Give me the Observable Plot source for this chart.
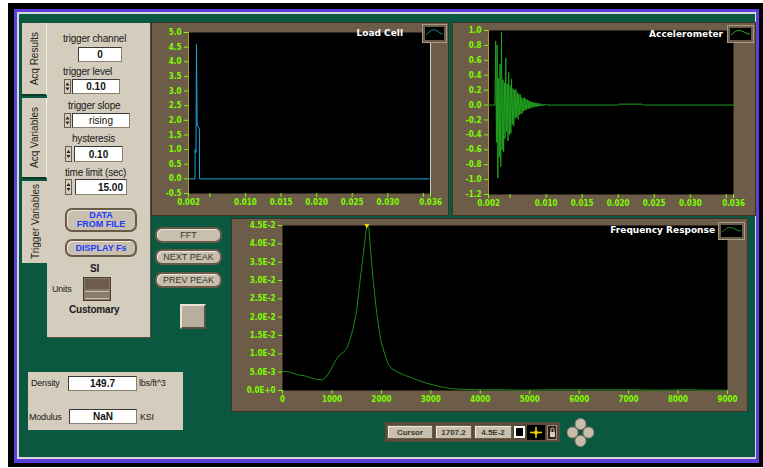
<!DOCTYPE html>
<html><head><meta charset="utf-8">
<script src="https://cdn.jsdelivr.net/npm/d3@7"></script>
<script src="https://cdn.jsdelivr.net/npm/@observablehq/plot@0.6"></script>
<style>
body{margin:0;background:#fff;}
#root{position:relative;width:763px;height:468px;overflow:hidden;font-family:"Liberation Sans",Arial,sans-serif;}
.a{position:absolute;box-sizing:border-box;}
.lbl{position:absolute;font-size:10px;color:#1a1a1a;white-space:nowrap;line-height:10px;letter-spacing:-0.2px;}
.box{position:absolute;box-sizing:border-box;background:#fff;border:1px solid #8a8070;border-top-color:#3a3a3a;border-left-color:#3a3a3a;font-size:10px;font-weight:bold;display:flex;align-items:center;justify-content:center;color:#111;}
.spin{position:absolute;box-sizing:border-box;background:#d4ccbc;border:1px solid #6a5e50;}
.btn{position:absolute;box-sizing:border-box;background:#c8bfae;border:2px solid #6a5a48;border-radius:7px;box-shadow:inset 1px 1px 0 #efe9de;display:flex;align-items:center;justify-content:center;text-align:center;font-size:9px;font-weight:bold;line-height:9px;color:#3a3530;}
.ttl{position:absolute;color:#fff;font:bold 9px "DejaVu Sans",sans-serif;white-space:nowrap;line-height:10px;}
.tab{position:absolute;box-sizing:border-box;background:#d4ccbc;font-size:10px;color:#222;display:flex;align-items:center;justify-content:center;}
.tab span{writing-mode:vertical-rl;transform:rotate(180deg);white-space:nowrap;}
.leg{position:absolute;box-sizing:border-box;background:#000;border:2px solid #6d5c48;outline:1px solid #a89a88;}
</style>
</head><body><div id="root"></div>
<script>
// ---------------- data ----------------
const loadT = [0.002, 0.00292, 0.00293, 0.00305, 0.00312, 0.00322, 0.00336, 0.00353, 0.00356, 0.036];
const loadV = [0, 0, 1.0, 0.9, 4.6, 1.8, 1.8, 1.7, 0, 0];
const loadYTicks = [-0.5, 0, 0.5, 1.0, 1.5, 2.0, 2.5, 3.0, 3.5, 4.0, 4.5, 5.0];
const timeTicks = [0.002, 0.005, 0.010, 0.015, 0.020, 0.025, 0.030, 0.035, 0.036];
const timeLabels = ["0.002", "", "0.010", "0.015", "0.020", "0.025", "0.030", "", "0.036"];

const accStart = 0.0029, accStep = 0.0001;
const accValues = [0, 0.86, -0.50, 0.80, -0.98, 0.36, -0.70, 0.55, -0.83, 0.98, -0.60, 0.34, -0.63, 0.30, -0.45, 0.63,
  -0.36, 0.28, -0.48, 0.44, -0.40, 0.26, -0.38, 0.35, -0.26, 0.22, -0.28, 0.20, -0.18, 0.21, -0.16, 0.17, -0.19, 0.15,
  -0.13, 0.14, -0.12, 0.10, -0.11, 0.09, -0.08, 0.10, -0.07, 0.08, -0.06, 0.07, -0.05, 0.06, -0.05, 0.05, -0.04, 0.04,
  -0.03, 0.04, -0.03, 0.03, -0.02, 0.03, -0.02, 0.02, -0.02, 0.02, -0.01, 0.02, -0.01, 0.01, -0.01, 0.01, -0.01, 0.01, 0, 0.01, 0];
const accTailT = [0.0150, 0.0199, 0.0201, 0.0233, 0.0235, 0.036];
const accTailV = [0, 0, 0.012, 0.012, 0, 0];
const accYTicks = [-1.2, -1.0, -0.8, -0.6, -0.4, -0.2, 0, 0.2, 0.4, 0.6, 0.8, 1.0];

const freqHz = [0, 150, 306, 450, 578, 700, 816, 900, 986, 1060, 1122, 1180, 1224, 1300, 1361, 1430, 1497, 1560, 1633, 1680,
  1700, 1725, 1748, 1790, 1837, 1890, 1939, 2000, 2075, 2140, 2211, 2350, 2483, 2620, 2755, 2890, 3027, 3200, 3367, 3500,
  3707, 4000, 4300, 4900, 5500, 6200, 7000, 7600, 8200, 8600, 9000];
const freqMag = [0.0053, 0.0050, 0.0043, 0.0040, 0.0034, 0.0030, 0.0029, 0.0040, 0.0059, 0.0078, 0.0091, 0.0100, 0.0103,
  0.0115, 0.0137, 0.0170, 0.0215, 0.0290, 0.0370, 0.0425, 0.0444, 0.0448, 0.0440, 0.0370, 0.0297, 0.0230, 0.0178, 0.0130,
  0.0096, 0.0072, 0.0059, 0.0049, 0.0041, 0.0034, 0.0027, 0.0021, 0.0016, 0.0010, 0.0006, 0.0004, 0.0003, 0.0002, 0.0002,
  0.0001, 0.0002, 0.0002, 0.0002, 0.0001, 0.0002, 0.0001, 0.0001];
const freqXTicks = [0, 1000, 2000, 3000, 4000, 5000, 6000, 7000, 8000, 9000];
const freqYTicks = [0, 0.005, 0.010, 0.015, 0.020, 0.025, 0.030, 0.035, 0.040, 0.045];
const freqYLabels = ["0.0E+0", "5.0E-3", "1.0E-2", "1.5E-2", "2.0E-2", "2.5E-2", "3.0E-2", "3.5E-2", "4.0E-2", "4.5E-2"];
const cursorX = [1707.2], cursorY = [0.045];
const cursorLabels = ["1707.2", "4.5E-2"];

// ---------------- helpers ----------------
const root = document.getElementById("root");
function add(cls, css, html) {
  const d = document.createElement("div");
  d.className = cls;
  d.style.cssText = css;
  if (html != null) d.innerHTML = html;
  root.appendChild(d);
  return d;
}
const GREEN = "#0a583f", TAN = "#d4ccbc", BROWN = "#6d5c48", TICK = "#7cfc00";

// frame
add("a", "left:8px;top:3px;width:755px;height:464px;background:#000;");
add("a", "left:14px;top:9px;width:745px;height:454px;background:#5b3fd8;");
add("a", "left:17px;top:12px;width:739px;height:447px;background:#d8d8e4;");
add("a", `left:19px;top:14px;width:736px;height:443px;background:${GREEN};`);

// ---------------- charts ----------------
const axisStyle = {background: BROWN, color: TICK, fontSize: "8px", fontFamily: "'DejaVu Sans Condensed','DejaVu Sans',sans-serif", fontWeight: "bold", fontStretch: "condensed", overflow: "visible"};
function place(svg, left, top) {
  const w = document.createElement("div");
  w.className = "a";
  w.style.cssText = `left:${left}px;top:${top}px;outline:1px solid #3e3226;line-height:0;`;
  w.appendChild(svg);
  root.appendChild(w);
}
const timeMap = new Map(timeTicks.map((t, i) => [t, timeLabels[i]]));

const loadData = loadT.map((t, i) => ({t, v: loadV[i]}));
place(Plot.plot({
  width: 296, height: 192, marginLeft: 36, marginRight: 18, marginTop: 9, marginBottom: 22,
  x: {domain: [0.002, 0.036]}, y: {domain: [-0.5, 5.0]}, style: axisStyle,
  marks: [
    Plot.frame({fill: "black"}),
    Plot.axisY({ticks: loadYTicks, tickFormat: d => d.toFixed(1), tickSize: 4, tickPadding: 3, label: null}),
    Plot.axisX({ticks: timeTicks, tickFormat: d => timeMap.get(d), tickSize: 4, tickPadding: 2, label: null}),
    Plot.ruleX([0.002], {stroke: "#b89c1c"}),
    Plot.ruleX([0.036], {y1: -0.5, y2: 4.7, stroke: "#d8d0c4"}),
    Plot.line(loadData, {x: "t", y: "v", stroke: "#1ba6d6", strokeWidth: 1})
  ]
}), 152, 23);

const accData = [{t: 0.002, v: 0}]
  .concat(accValues.map((v, i) => ({t: accStart + i * accStep, v})))
  .concat(accTailT.map((t, i) => ({t, v: accTailV[i]})));
place(Plot.plot({
  width: 302, height: 192, marginLeft: 35, marginRight: 22, marginTop: 7, marginBottom: 21,
  x: {domain: [0.002, 0.036]}, y: {domain: [-1.2, 1.0]}, style: axisStyle,
  marks: [
    Plot.frame({fill: "black"}),
    Plot.axisY({ticks: accYTicks, tickFormat: d => d.toFixed(1), tickSize: 4, tickPadding: 3, label: null}),
    Plot.axisX({ticks: timeTicks, tickFormat: d => timeMap.get(d), tickSize: 4, tickPadding: 2, label: null}),
    Plot.ruleX([0.002], {stroke: "#b89c1c"}),
    Plot.line(accData, {x: "t", y: "v", stroke: "#20a020", strokeWidth: 1})
  ]
}), 453, 23);

const freqData = freqHz.map((f, i) => ({f, m: freqMag[i]}));
const freqMap = new Map(freqYTicks.map((t, i) => [t, freqYLabels[i]]));
place(Plot.plot({
  width: 515, height: 192, marginLeft: 50, marginRight: 20, marginTop: 6, marginBottom: 21,
  x: {domain: [0, 9000]}, y: {domain: [0, 0.045]}, style: axisStyle,
  marks: [
    Plot.frame({fill: "black"}),
    Plot.axisY({ticks: freqYTicks, tickFormat: d => freqMap.get(d), tickSize: 4, tickPadding: 3, label: null}),
    Plot.axisX({ticks: freqXTicks, tickFormat: d => String(d), tickSize: 4, tickPadding: 2, label: null}),
    Plot.line(freqData, {x: "f", y: "m", stroke: "#1c8a1c", strokeWidth: 1}),
    Plot.dot(cursorX.map((x, i) => ({x, y: cursorY[i]})), {x: "x", y: "y", symbol: "triangle2", r: 2.5, fill: "#e6d200", rotate: 180})
  ]
}), 232, 219);

// chart titles and legend icons
function legIcon(left, top, w, h, color) {
  add("leg", `left:${left}px;top:${top}px;width:${w}px;height:${h}px;`,
    `<svg width="${w-4}" height="${h-4}" style="display:block"><path d="M1,${h-9} C${(w-4)*0.3},${h-14} ${(w-4)*0.4},2 ${(w-4)*0.55},3 S${(w-4)*0.8},${h-10} ${w-5},${h-10}" fill="none" stroke="${color}" stroke-width="1"/></svg>`);
}
add("ttl", "right:360px;top:28px;", "Load Cell");
legIcon(423, 25, 23, 17, "#1a9090");
add("ttl", "right:40px;top:29px;", "Accelerometer");
legIcon(728, 26, 25, 16, "#27b327");
add("ttl", "right:48px;top:225px;", "Frequency Response");
legIcon(719, 223, 25, 16, "#1f961f");

// ---------------- left tab panel ----------------
add("a", `left:47px;top:23px;width:103px;height:314px;background:${TAN};box-shadow:1px 1px 0 #5a5040;`);
add("tab", "left:22px;top:23px;width:25px;height:73px;border-right:1px solid #f2eee6;border-bottom:2px solid #0a3a2a;", "<span>Acq Results</span>");
add("tab", "left:22px;top:98px;width:25px;height:81px;border-right:1px solid #f2eee6;border-bottom:2px solid #0a3a2a;", "<span>Acq Variables</span>");
add("tab", "left:22px;top:181px;width:26px;height:82px;", "<span>Trigger Variables</span>");

function spinner(left, top, h) {
  add("spin", `left:${left}px;top:${top}px;width:7px;height:${h}px;`,
    `<svg width="5" height="${h-2}" style="display:block"><path d="M0.5,${h/2-2} L2.5,${h/2-5} L4.5,${h/2-2}Z M0.5,${h/2} L2.5,${h/2+3} L4.5,${h/2}Z" fill="#222"/></svg>`);
}
add("lbl", "left:63px;top:34px;", "trigger channel");
add("box", "left:78px;top:47px;width:44px;height:15px;", "0");
add("lbl", "left:63px;top:67px;", "trigger level");
spinner(64, 79, 15);
add("box", "left:72px;top:79px;width:48px;height:15px;", "0.10");
add("lbl", "left:68px;top:101px;", "trigger slope");
spinner(64, 113, 15);
add("box", "left:72px;top:113px;width:58px;height:15px;font-weight:normal;", "rising");
add("lbl", "left:72px;top:134px;", "hysteresis");
spinner(65, 146, 16);
add("box", "left:74px;top:146px;width:49px;height:16px;", "0.10");
add("lbl", "left:65px;top:168px;", "time limit (sec)");
spinner(65, 179, 16);
add("box", "left:75px;top:179px;width:52px;height:16px;justify-content:flex-end;padding-right:3px;", "15.00");
add("btn", "left:65px;top:208px;width:72px;height:24px;color:#1e3cff;", "DATA<br>FROM FILE");
add("btn", "left:65px;top:239px;width:72px;height:18px;color:#1e3cff;", "DISPLAY Fs");
add("lbl", "left:90px;top:264px;font-weight:bold;", "SI");
add("lbl", "left:52px;top:284px;font-size:9px;", "Units");
add("a", "left:83px;top:277px;width:28px;height:24px;background:#8a7a68;border:1px solid #4a3e32;",
  `<div class="a" style="left:1px;top:1px;width:24px;height:10px;background:#6d5c4a;"></div><div class="a" style="left:1px;top:13px;width:24px;height:8px;border-top:1px solid #c8bcac;border-bottom:1px solid #c8bcac;"></div>`);
add("lbl", "left:69px;top:305px;font-weight:bold;", "Customary");

// FFT buttons
add("btn", "left:155px;top:227px;width:67px;height:16px;font-weight:normal;", "FFT");
add("btn", "left:155px;top:249px;width:67px;height:16px;font-weight:normal;", "NEXT PEAK");
add("btn", "left:155px;top:272px;width:67px;height:16px;font-weight:normal;", "PREV PEAK");
add("a", "left:180px;top:304px;width:26px;height:25px;background:#b8ae9e;border:2px solid;border-color:#e8e2d6 #5a4e40 #5a4e40 #e8e2d6;");

// density panel
add("a", `left:28px;top:372px;width:155px;height:58px;background:${TAN};`);
add("lbl", "left:31px;top:378px;font-size:9px;", "Density");
add("box", "left:68px;top:376px;width:69px;height:15px;", "149.7");
add("lbl", "left:139px;top:378px;font-size:9px;", "lbs/ft^3");
add("lbl", "left:29px;top:412px;font-size:9px;", "Modulus");
add("box", "left:69px;top:409px;width:68px;height:15px;", "NaN");
add("lbl", "left:140px;top:412px;font-size:9px;", "KSI");

// cursor bar
add("a", "left:385px;top:422px;width:175px;height:20px;background:#5a4a3a;");
add("btn", "left:387px;top:425px;width:46px;height:14px;border-radius:0;border-width:1px;font-size:8px;", "Cursor");
add("btn", `left:435px;top:425px;width:37px;height:14px;border-radius:0;border-width:1px;font-size:8px;`, cursorLabels[0]);
add("btn", `left:474px;top:425px;width:38px;height:14px;border-radius:0;border-width:1px;font-size:8px;`, cursorLabels[1]);
add("a", "left:514px;top:426px;width:11px;height:12px;background:#fff;border:2px solid #fff;", `<div style="width:7px;height:8px;background:#000"></div>`);
add("a", "left:527px;top:425px;width:18px;height:15px;background:#000;",
  `<svg width="18" height="15" style="display:block"><path d="M9,2 L9,13 M3,7.5 L15,7.5" stroke="#e6d200" stroke-width="1.5"/><circle cx="9" cy="7.5" r="2" fill="#e6d200"/></svg>`);
add("a", "left:547px;top:425px;width:10px;height:15px;background:#2a2018;border:1px solid #9a8a78;",
  `<svg width="8" height="13" style="display:block"><rect x="2" y="6" width="5" height="5" fill="#d4ccbc"/><path d="M3,6 V3.5 A1.5,1.5 0 0 1 6,3.5 V6" stroke="#d4ccbc" fill="none"/></svg>`);
add("a", "left:567px;top:418px;width:27px;height:29px;",
  `<svg width="27" height="29" style="display:block"><g fill="#c8bcaa" stroke="#8a7a68"><circle cx="13.5" cy="6" r="5.5"/><circle cx="13.5" cy="23" r="5.5"/><circle cx="5.5" cy="14.5" r="5.5"/><circle cx="21.5" cy="14.5" r="5.5"/></g></svg>`);
</script>
</body></html>
